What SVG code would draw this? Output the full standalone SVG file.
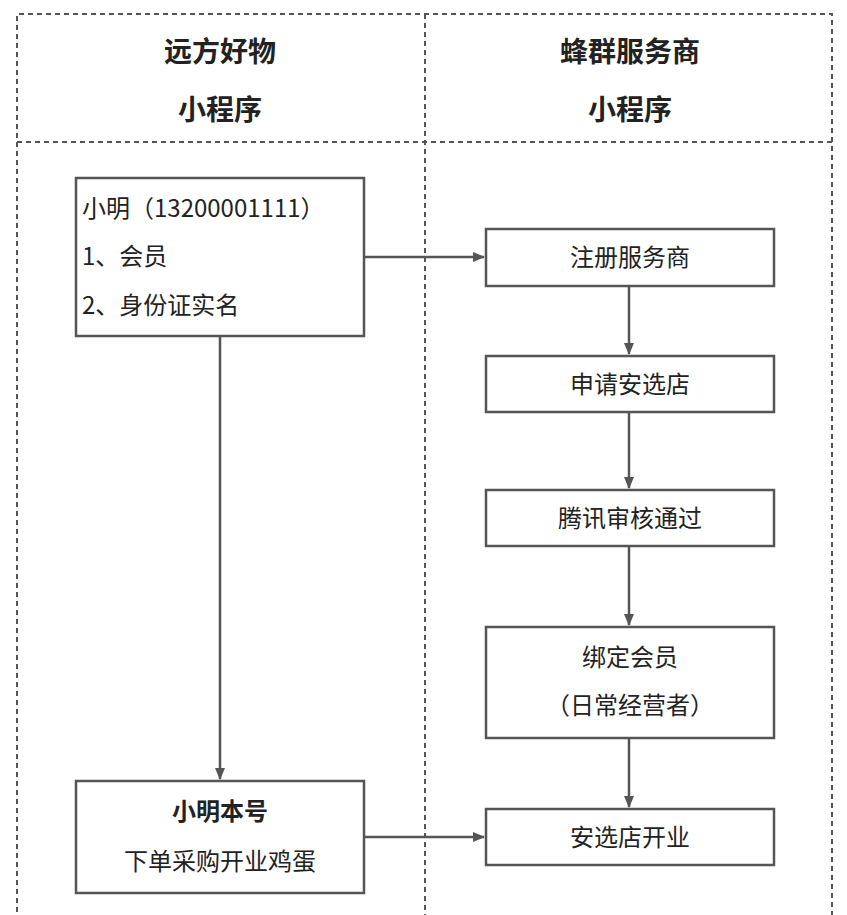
<svg xmlns="http://www.w3.org/2000/svg" width="847" height="915" viewBox="0 0 847 915">
<style>
.d{stroke:#555;stroke-width:2;stroke-dasharray:5,4;fill:none}
.b{fill:#fff;stroke:#555;stroke-width:2.5}
.c{stroke:#555;stroke-width:2.5;fill:none;marker-end:url(#a)}
text{font-family:"Noto Sans CJK SC","Noto Sans",sans-serif;font-size:24px;fill:#222}
.h{font-size:28px;font-weight:bold;text-anchor:middle}
.m{text-anchor:middle}
</style>
<defs><marker id="a" markerWidth="12" markerHeight="10" refX="11" refY="5" orient="auto" markerUnits="userSpaceOnUse"><path d="M0,0 L12,5 L0,10 z" fill="#555"/></marker></defs>
<rect width="847" height="915" fill="#fff"/>
<g id="lanes">
<path class="d" d="M17,930 V14 H832 V930 M425,14 V930 M17,142 H832"/>
<text class="h" x="220" y="62">远方好物</text>
<text class="h" x="220" y="120">小程序</text>
<text class="h" x="630" y="62">蜂群服务商</text>
<text class="h" x="630" y="120">小程序</text>
</g>
<g id="connectors">
<path class="c" d="M364,257 H484"/>
<path class="c" d="M629,286 V354"/>
<path class="c" d="M629,412 V488"/>
<path class="c" d="M629,546 V625"/>
<path class="c" d="M629,738 V807"/>
<path class="c" d="M220,336 V779"/>
<path class="c" d="M364,837 H484"/>
</g>
<g id="xiaoming"><rect class="b" x="76" y="178" width="288" height="158"/>
<text x="82" y="217">小明（13200001111）</text><text x="82" y="265">1、会员</text><text x="82" y="314">2、身份证实名</text></g>
<g id="n1"><rect class="b" x="486" y="229" width="288" height="57"/><text class="m" x="630" y="266">注册服务商</text></g>
<g id="n2"><rect class="b" x="486" y="356" width="288" height="56"/><text class="m" x="630" y="393">申请安选店</text></g>
<g id="n3"><rect class="b" x="486" y="490" width="288" height="56"/><text class="m" x="630" y="527">腾讯审核通过</text></g>
<g id="n4"><rect class="b" x="486" y="627" width="288" height="111"/><text class="m" x="630" y="666">绑定会员</text><text class="m" x="630" y="714">（日常经营者）</text></g>
<g id="n5"><rect class="b" x="486" y="809" width="288" height="56"/><text class="m" x="630" y="846">安选店开业</text></g>
<g id="xm2"><rect class="b" x="76" y="781" width="288" height="112"/><text class="m" x="220" y="820" font-weight="bold">小明本号</text><text class="m" x="220" y="870">下单采购开业鸡蛋</text></g>
</svg>
